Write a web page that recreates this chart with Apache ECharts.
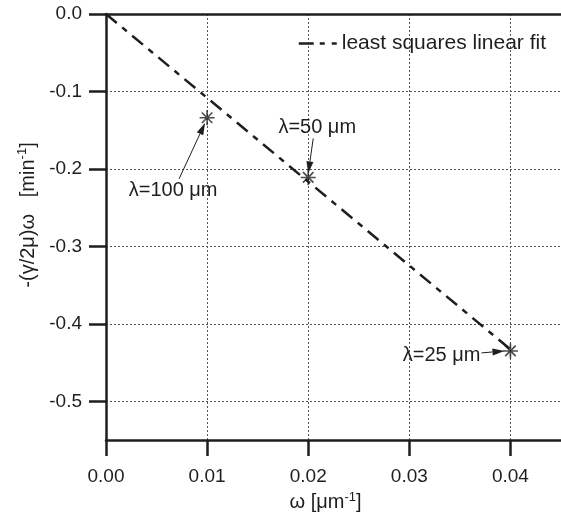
<!DOCTYPE html>
<html>
<head>
<meta charset="utf-8">
<script src="https://cdn.jsdelivr.net/npm/echarts@6/dist/echarts.min.js"></script>
<style>
  html, body { margin: 0; padding: 0; background: #fff; }
  #chart { width: 561px; height: 515px; }
</style>
</head>
<body>
<div id="chart"></div>
<script>
// Measured points: spatial frequency vs. growth term
const omega = [0.01, 0.02, 0.04];
const growth = [-0.134, -0.211, -0.435];
const wavelengthLabels = ['λ=100 μm', 'λ=50 μm', 'λ=25 μm'];

// Least squares line through the origin (end points)
const fitX = [0, 0.04];
const fitY = [0, -0.433];
const fitName = 'least squares linear fit';

// Axis ticks
const xTicks = [0, 0.01, 0.02, 0.03, 0.04];
const yTicks = [0, -0.1, -0.2, -0.3, -0.4, -0.5];

const INK = '#1e1e1e';
const FONT = "'Liberation Sans', Arial, Helvetica, sans-serif";

// Pixel offsets (relative to each point) for the arrow tail, arrow tip and text
const callouts = [
  { tail: [-28, 61], tip: [-2, 5], text: [-34, 73], align: 'center' },
  { tail: [5, -39], tip: [0, -4], text: [9, -50], align: 'center' },
  { tail: [-29, 2], tip: [-6, 0], text: [-30, 5], align: 'right' }
];

const pointData = omega.map((x, i) => [x, growth[i]]);
const fitData = fitX.map((x, i) => [x, fitY[i]]);

function renderCallout(params, api) {
  const i = params.dataIndex;
  const c = callouts[i];
  const p = api.coord([api.value(0), api.value(1)]);
  const tx = p[0] + c.tail[0], ty = p[1] + c.tail[1];
  const hx = p[0] + c.tip[0], hy = p[1] + c.tip[1];
  const ang = Math.atan2(hy - ty, hx - tx);
  const len = 12, half = 3.5;
  const bx = hx - len * Math.cos(ang), by = hy - len * Math.sin(ang);
  const nx = -Math.sin(ang) * half, ny = Math.cos(ang) * half;
  return {
    type: 'group',
    children: [
      { type: 'line', shape: { x1: tx, y1: ty, x2: bx, y2: by },
        style: { stroke: INK, lineWidth: 1 } },
      { type: 'polygon', shape: { points: [[hx, hy], [bx + nx, by + ny], [bx - nx, by - ny]] },
        style: { fill: INK } },
      { type: 'text', x: p[0] + c.text[0], y: p[1] + c.text[1],
        style: { text: wavelengthLabels[i], fill: INK, font: '20px ' + FONT,
                 align: c.align, verticalAlign: 'middle' } }
    ]
  };
}

const supRich = {
  t: { fontSize: 20, fontFamily: FONT, color: INK, lineHeight: 24 },
  s: { fontSize: 13, fontFamily: FONT, color: INK, lineHeight: 24, verticalAlign: 'top' }
};

const FIT_DASH = [14, 7, 6, 7];

const chart = echarts.init(document.getElementById('chart'));
chart.setOption({
  animation: false,
  backgroundColor: '#fff',
  grid: { left: 106, right: 0, top: 14, bottom: 75, outerBoundsMode: 'none' },
  legend: {
    data: [{ name: fitName, icon: 'path://M0,0h15v2.5h-15zM21,0h5v2.5h-5zM33,0h5v2.5h-5z' }],
    right: 10, top: 28,
    itemWidth: 38, itemHeight: 2.5, itemGap: 8,
    textStyle: { fontSize: 21, fontFamily: FONT, color: INK }
  },
  xAxis: [{
    type: 'value', min: 0, max: 0.045,
    name: '{t|ω [μm}{s|-1}{t|]}',
    nameLocation: 'middle', nameGap: 50,
    nameTextStyle: { rich: supRich, padding: [0, 16, 0, 0] },
    axisLine: { show: true, onZero: false, lineStyle: { color: INK, width: 2.5 } },
    axisTick: { show: true, inside: false, length: 16, lineStyle: { color: INK, width: 2.5 },
                customValues: xTicks },
    axisLabel: { customValues: xTicks, margin: 27, fontSize: 19, fontFamily: FONT, color: INK,
                 formatter: v => v.toFixed(2) },
    splitLine: { show: true, lineStyle: { color: '#555', width: 1, type: [2, 2] } }
  }, {
    type: 'value', min: 0, max: 0.045, position: 'top',
    axisLine: { show: true, onZero: false, lineStyle: { color: INK, width: 2.5 } },
    axisTick: { show: false }, axisLabel: { show: false }, splitLine: { show: false }
  }],
  yAxis: {
    type: 'value', min: -0.55, max: 0,
    name: '{t|-(γ/2μ)ω   [min}{s|-1}{t|]}',
    nameLocation: 'middle', nameGap: 47, nameRotate: 90,
    nameTextStyle: { rich: supRich, padding: [0, 0, 0, 24] },
    axisLine: { show: true, onZero: false, lineStyle: { color: INK, width: 2.5 } },
    axisTick: { show: true, inside: false, length: 17, lineStyle: { color: INK, width: 2.5 },
                customValues: yTicks },
    axisLabel: { customValues: yTicks, margin: 24, fontSize: 19, fontFamily: FONT, color: INK,
                 formatter: v => v.toFixed(1) },
    splitLine: { show: true, lineStyle: { color: '#555', width: 1, type: [2, 2] } }
  },
  series: [{
    name: fitName,
    type: 'line',
    data: fitData,
    symbol: 'none',
    lineStyle: { color: INK, width: 2.5, type: FIT_DASH },
    itemStyle: { color: INK },
    z: 3
  }, {
    name: 'points',
    type: 'scatter',
    data: pointData,
    symbol: 'path://M0,-10L0,10M-10,0L10,0M-7,-7L7,7M-7,7L7,-7',
    symbolSize: 15,
    itemStyle: { color: INK, borderColor: INK, borderWidth: 1.6 },
    z: 4
  }, {
    name: 'callouts',
    type: 'custom',
    data: pointData,
    renderItem: renderCallout,
    z: 5
  }]
});
</script>
</body>
</html>
